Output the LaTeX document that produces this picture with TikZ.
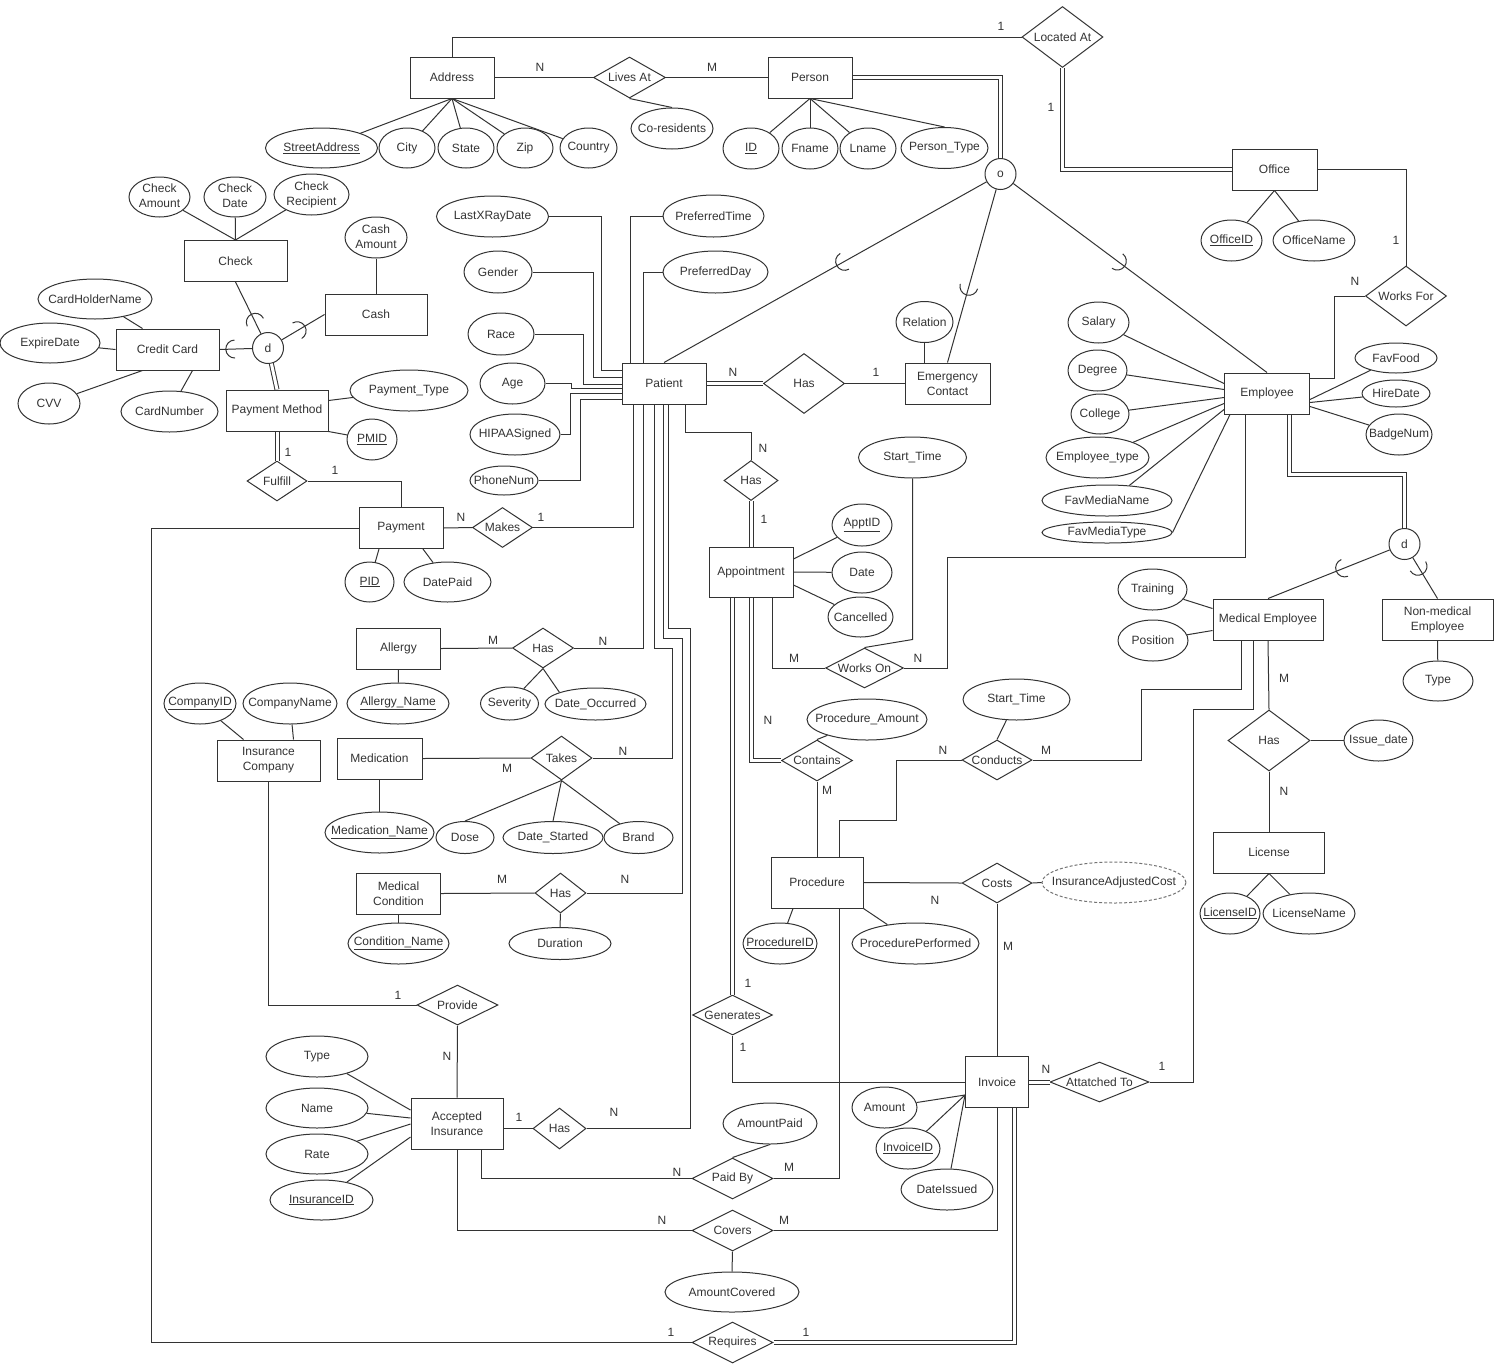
\documentclass[tikz,border=0pt]{standalone}
\usepackage{fontspec}
\setmainfont{Liberation Sans}
\usetikzlibrary{shapes.geometric,decorations.markings}
\newsavebox\lblbox
\newcommand{\attrlines}[2]{\begin{tabular}{@{}c@{}}#1\\#2\end{tabular}}
\tikzset{
  hidetext/.style={execute at begin node={\setbox\lblbox=\hbox\bgroup},
    execute at end node={\egroup\hbox to 0pt{\hss\vbox to 0pt{\vss\box\lblbox\vss}\hss}}},
  ent/.style={draw, rectangle, minimum width=84pt, minimum height=41pt, inner sep=0pt, align=center},
  attr/.style 2 args={draw, ellipse, minimum width=#1pt, minimum height=#2pt, inner sep=0pt, hidetext},
  rel/.style 2 args={draw, diamond, minimum width=#1pt, minimum height=#2pt, inner sep=0pt, hidetext},
  disj/.style={draw, circle, minimum size=31pt, inner sep=0pt},
  card/.style={inner sep=0pt},
  tot/.style={double, double distance=3pt},
  subset/.style={postaction={decorate, decoration={markings,
    mark=at position #1 with {\draw[line width=1pt] (0pt,-9pt) arc[start angle=-90, delta angle=180, radius=9pt];}}}},
}
\begin{document}
\begin{tikzpicture}[x=1pt, y=-1pt, line width=1pt, color=black!80, font=\fontsize{12}{15}\selectfont]
\useasboundingbox (0,0) rectangle (1509,1371);

% Entities
\node[ent] (addr) at (452,77.5) {Address};
\node[ent] (person) at (810,77.5) {Person};
\node[ent, minimum width=85pt] (office) at (1274.5,169.5) {Office};
\node[ent, minimum width=103pt] (check) at (235.5,261) {Check};
\node[ent, minimum width=102pt] (cash) at (376,314.5) {Cash};
\node[ent, minimum width=103pt] (cc) at (167.5,349.5) {Credit Card};
\node[ent, minimum width=102pt] (pm) at (277,410.5) {Payment Method};
\node[ent] (pat) at (664,383.5) {Patient};
\node[ent, minimum width=85pt] (ec) at (947.5,383.5) {Emergency\\Contact};
\node[ent, minimum width=85pt] (emp) at (1267,393.5) {Employee};
\node[ent] (pay) at (401,528) {Payment};
\node[ent, minimum height=50pt] (appt) at (751,572) {Appointment};
\node[ent, minimum width=110pt] (med) at (1268,619.5) {Medical Employee};
\node[ent, minimum width=111pt] (nmed) at (1437.5,619.5) {Non-medical\\Employee};
\node[ent] (allergy) at (398.5,648.5) {Allergy};
\node[ent, minimum width=103pt] (ic) at (268.5,760.5) {Insurance\\Company};
\node[ent, minimum width=85pt] (medic) at (379.5,758.5) {Medication};
\node[ent, minimum width=111pt] (lic) at (1269,852.5) {License};
\node[ent, minimum width=92pt, minimum height=51pt] (proc) at (817,882.5) {Procedure};
\node[ent] (mcond) at (398.5,893.5) {Medical\\Condition};
\node[ent, minimum width=63pt, minimum height=51pt] (inv) at (997,1082) {Invoice};
\node[ent, minimum width=92pt, minimum height=51pt] (ai) at (457,1123.5) {Accepted\\Insurance};

% Relationships
\node[rel={81}{61}] (locat) at (1062.5,37) {Located At};
\node[rel={72}{41}] (lives) at (629.5,77.5) {Lives At};
\node[rel={81}{60}] (wfor) at (1406,296) {Works For};
\node[rel={60}{40}] (fulf) at (277,481) {Fulfill};
\node[rel={81}{60}] (hasec) at (804,383.5) {Has};
\node[rel={54}{40}] (hasap) at (751,480.5) {Has};
\node[rel={60}{40}] (makes) at (502.5,527.5) {Makes};
\node[rel={61}{40}] (hasal) at (543,648) {Has};
\node[rel={78}{40}] (wkon) at (864.5,668) {Works On};
\node[rel={61}{44}] (takes) at (561.5,758) {Takes};
\node[rel={71}{41}] (cont) at (817,760.5) {Contains};
\node[rel={70}{40}] (cond) at (997,760) {Conducts};
\node[rel={82}{61}] (haslic) at (1269,740.5) {Has};
\node[rel={51}{40}] (hasmc) at (560.5,893) {Has};
\node[rel={70}{40}] (costs) at (997,883) {Costs};
\node[rel={81}{40}] (prov) at (457.5,1005) {Provide};
\node[rel={80}{40}] (gen) at (732.5,1015) {Generates};
\node[rel={99}{40}] (att) at (1099.5,1082) {Attatched To};
\node[rel={53}{41}] (hasai) at (559.5,1128.5) {Has};
\node[rel={81}{41}] (paid) at (732.5,1178.5) {Paid By};
\node[rel={81}{41}] (cov) at (732.5,1230.5) {Covers};
\node[rel={81}{41}] (req) at (732.5,1342.5) {Requires};

% Specialisation circles
\node[disj] (so) at (1000.5,174) {o};
\node[disj] (pd) at (268,348) {d};
\node[disj] (ed) at (1404.5,544) {d};

% Attributes
\node[attr={112}{40}] (sa) at (321.5,148) {\underline{StreetAddress}};
\node[attr={56}{40}] (city) at (407,148) {City};
\node[attr={56}{40}] (state) at (466,148) {State};
\node[attr={56}{40}] (zip) at (525,148) {Zip};
\node[attr={57}{40}] (country) at (588.5,148) {Country};
\node[attr={82}{41}] (cores) at (672,128.5) {Co-residents};
\node[attr={56}{41}] (idp) at (751,148.5) {\underline{ID}};
\node[attr={56}{41}] (fname) at (810,148.5) {Fname};
\node[attr={56}{41}] (lname) at (868,148.5) {Lname};
\node[attr={87}{41}] (ptypep) at (944.5,148) {Person\_Type};
\node[attr={61}{41}] (oid) at (1231.5,240.5) {\underline{OfficeID}};
\node[attr={82}{41}] (oname) at (1314,240.5) {OfficeName};
\node[attr={61}{40}] (chamt) at (159.5,197) {\attrlines{Check}{Amount}};
\node[attr={62}{40}] (chdate) at (235,197) {\attrlines{Check}{Date}};
\node[attr={75}{41}] (chrec) at (311.5,194.5) {\attrlines{Check}{Recipient}};
\node[attr={62}{41}] (cashamt) at (376,237.5) {\attrlines{Cash}{Amount}};
\node[attr={114}{40}] (chn) at (95,299) {CardHolderName};
\node[attr={100}{40}] (expd) at (50,343) {ExpireDate};
\node[attr={62}{41}] (cvv) at (49,403.5) {CVV};
\node[attr={97}{41}] (cnum) at (169.5,411.5) {CardNumber};
\node[attr={118}{41}] (ptype) at (409,390.5) {Payment\_Type};
\node[attr={50}{41}] (pmid) at (372,439.5) {\underline{PMID}};
\node[attr={49}{40}] (payid) at (369.5,582) {\underline{PID}};
\node[attr={87}{40}] (dpaid) at (447.5,582) {DatePaid};
\node[attr={112}{41}] (lxr) at (492.5,216.5) {LastXRayDate};
\node[attr={68}{42}] (gend) at (498,272) {Gender};
\node[attr={66}{42}] (race) at (501,334) {Race};
\node[attr={65}{41}] (age) at (512.5,383.5) {Age};
\node[attr={90}{41}] (hip) at (515,434.5) {HIPAASigned};
\node[attr={68}{29}] (phone) at (504,480.5) {PhoneNum};
\node[attr={101}{42}] (ptime) at (713.5,216) {PreferredTime};
\node[attr={105}{42}] (pday) at (715.5,272) {PreferredDay};
\node[attr={57}{41}] (relation) at (924.5,322) {Relation};
\node[attr={108}{41}] (stime) at (912.5,457.5) {Start\_Time};
\node[attr={60}{42}] (apptid) at (862,525) {\underline{ApptID}};
\node[attr={60}{41}] (date) at (862,572.5) {Date};
\node[attr={65}{40}] (cancel) at (860.5,617) {Cancelled};
\node[attr={61}{41}] (salary) at (1098.5,322.5) {Salary};
\node[attr={59}{41}] (degree) at (1097.5,370.5) {Degree};
\node[attr={58}{40}] (college) at (1100,414) {College};
\node[attr={103}{41}] (emptype) at (1097.5,457.5) {Employee\_type};
\node[attr={130}{31}] (fmname) at (1107,500.5) {FavMediaName};
\node[attr={130}{21}] (fmtype) at (1107,532.5) {FavMediaType};
\node[attr={82}{30}] (favfood) at (1396,358) {FavFood};
\node[attr={68}{27}] (hire) at (1396,393.5) {HireDate};
\node[attr={66}{41}] (badge) at (1399,434.5) {BadgeNum};
\node[attr={69}{41}] (train) at (1152.5,589.5) {Training};
\node[attr={70}{41}] (position) at (1153,640.5) {Position};
\node[attr={70}{40}] (ntype) at (1438,681) {Type};
\node[attr={69}{41}] (issue) at (1378.5,740.5) {Issue\_date};
\node[attr={60}{41}] (licid) at (1230,913.5) {\underline{LicenseID}};
\node[attr={92}{41}] (licname) at (1309,913.5) {LicenseName};
\node[attr={102}{41}] (alname) at (398,703.5) {\underline{Allergy\_Name}};
\node[attr={58}{33}] (sev) at (509.5,703.5) {Severity};
\node[attr={101}{32}] (docc) at (595.5,704) {Date\_Occurred};
\node[attr={72}{41}] (cid) at (200,703.5) {\underline{CompanyID}};
\node[attr={94}{41}] (cname) at (290,703.5) {CompanyName};
\node[attr={109}{41}] (mname) at (379.5,832.5) {\underline{Medication\_Name}};
\node[attr={58}{32}] (dose) at (465,837.5) {Dose};
\node[attr={100}{32}] (dstart) at (553,837.5) {Date\_Started};
\node[attr={69}{32}] (brand) at (638.5,837.5) {Brand};
\node[attr={101}{41}] (cndname) at (398.5,943.5) {\underline{Condition\_Name}};
\node[attr={102}{32}] (dur) at (560,943.5) {Duration};
\node[attr={120}{41}] (pamt) at (867,719.5) {Procedure\_Amount};
\node[attr={107}{41}] (stime2) at (1016.5,699.5) {Start\_Time};
\node[attr={74}{41}] (procid) at (780,943.5) {\underline{ProcedureID}};
\node[attr={127}{41}] (pperf) at (915.5,943.5) {ProcedurePerformed};
\node[attr={144}{41}, dash pattern=on 3pt off 2pt, draw=black!55] (iac) at (1114,882.5) {InsuranceAdjustedCost};
\node[attr={65}{41}] (amount) at (884.5,1107.5) {Amount};
\node[attr={64}{41}] (invid) at (908,1148.5) {\underline{InvoiceID}};
\node[attr={92}{41}] (dissued) at (947,1189.5) {DateIssued};
\node[attr={94}{41}] (amtpaid) at (770,1123.5) {AmountPaid};
\node[attr={134}{40}] (amtcov) at (732,1292) {AmountCovered};
\node[attr={102}{41}] (itype) at (317,1056.5) {Type};
\node[attr={102}{40}] (iname) at (317,1108) {Name};
\node[attr={102}{40}] (irate) at (317,1154) {Rate};
\node[attr={103}{40}] (insid) at (321.5,1200) {\underline{InsuranceID}};

% Address and person
\draw (addr.north) |- (locat.west);
\draw (addr.east) -- (lives.west);
\draw (lives.east) -- (person.west);
\draw (lives.south) -- (cores.north);
\foreach \a in {sa,city,state,zip,country} \draw (addr.south) -- (\a);
\foreach \a in {idp,fname,lname} \draw (person.south) -- (\a);
\draw (person.south) -- (ptypep.north);

% Office
\draw[tot] (locat.south) |- (office.west);
\draw (office.east) -| (wfor.north);
\draw (wfor.west) -- ++(-31,0) |- ([yshift=15pt]emp.east);
\foreach \a in {oid,oname} \draw (office.south) -- (\a);

% Person specialisation
\draw[tot] (person.east) -| (so.north);
\draw[subset=0.44] (so) -- (pat.north);
\draw[subset=0.56] (so) -- (ec.north);
\draw[subset=0.41] (so) -- (emp.north);

% Payment method specialisation
\draw[tot] (pd) -- (pm.north);
\draw[subset=0.22] (pd) -- (check.south);
\draw[subset=0.36] (pd) -- (cash.west);
\draw[subset=0.53] (pd) -- (cc.east);
\foreach \a in {chamt,chdate,chrec} \draw (check.north) -- (\a);
\draw (cashamt) -- (cash.north);
\draw (chn) -- ([xshift=-25pt]cc.north);
\draw (expd) -- (cc.west);
\draw (cvv) -- ([xshift=-25pt]cc.south);
\draw (cnum) -- ([xshift=25pt]cc.south);
\draw ([yshift=10pt]pm.east) -- (ptype);
\draw (pm.south east) -- (pmid);

% Payment
\draw[tot] (fulf.north) -- (pm.south);
\draw (pay.north) |- (fulf.east);
\draw (pay.east) -- (makes.west);
\draw ([xshift=-22pt]pay.south) -- (payid);
\draw ([xshift=22pt]pay.south) -- (dpaid);

% Patient attributes
\draw (lxr.east) -- ++(52,0) |- ([yshift=13.5pt]pat.west);
\draw (gend.east) -- ++(61,0) |- ([yshift=6.5pt]pat.west);
\draw (race.east) -- ++(49,0) |- ([yshift=-0.5pt]pat.west);
\draw (age.east) -- ++(26,0) |- ([yshift=-4.5pt]pat.west);
\draw (hip.east) -- ++(10,0) |- ([yshift=-9.5pt]pat.west);
\draw (phone.east) -- ++(42,0) |- ([yshift=-15.5pt]pat.west);
\draw (ptime.west) -| ([xshift=-34pt]pat.north);
\draw (pday.west) -| ([xshift=-21pt]pat.north);

% Patient relationships
\draw[tot] (pat.east) -- (hasec.west);
\draw (hasec.east) -- (ec.west);
\draw (relation) -- (relation |- ec.north);
\draw ([xshift=21pt]pat.south) -- ++(0,28) -| (hasap.north);
\draw[tot] (hasap.south) -- (appt.north);
\draw ([xshift=-31pt]pat.south) |- (makes.east);
\draw ([xshift=-21pt]pat.south) |- (hasal.east);
\draw ([xshift=-10pt]pat.south) -- ++(0,244) -- ++(18,0) |- (takes.east);
\draw ([xshift=-1pt]pat.south) -- ++(0,234) -- ++(19,0) |- (hasmc.east);
\draw ([xshift=4pt]pat.south) -- ++(0,224) -- ++(22,0) |- (hasai.east);

% Allergy, medication, condition
\draw (allergy.east) -- (hasal.west);
\draw (allergy.south) -- (alname);
\draw (hasal.south) -- (sev);
\draw (hasal.south) -- (docc.north west);
\draw (medic.east) -- (takes.west);
\draw (medic.south) -- (mname);
\draw (takes.south) -- (dose.north);
\draw (takes.south) -- (dstart.north);
\draw (takes.south) -- (brand);
\draw (mcond.east) -- (hasmc.west);
\draw (mcond.south) -- (cndname);
\draw (hasmc.south) -- (dur.north);

% Appointment
\draw ([yshift=13pt]appt.east) -- (apptid);
\draw (appt.east) -- (date);
\draw ([yshift=-13pt]appt.east) -- (cancel);
\draw ([xshift=21pt]appt.south) |- (wkon.west);
\draw (wkon.east) -- ++(43,0) -- ++(0,-111) -| ([xshift=-22pt]emp.south);
\draw (stime.south) -- ++(0,161) -- (wkon.north);
\draw[tot] (appt.south -| gen.north) -- (gen.north);
\draw[tot] (appt.south) |- (cont.west);
\draw (pamt) -- (cont.north);
\draw (cont.south) -- (proc.north);

% Procedure
\draw ([xshift=22pt]proc.north) -- ++(0,-36) -- ++(57,0) |- (cond.west);
\draw (cond.east) -- ++(109,0) -- ++(0,-71) -| ([xshift=-27pt]med.south);
\draw (stime2) -- (cond.north);
\draw (proc.east) -- (costs.west);
\draw (costs.east) -- (iac.west);
\draw (costs.south) -- (inv.north);
\draw ([xshift=22pt]proc.south) |- (paid.east);
\draw ([xshift=-24pt]proc.south) -- (procid);
\draw (proc.south east) -- (pperf);

% Employee
\draw (salary) -- ([yshift=10pt]emp.west);
\draw (degree) -- ([yshift=4pt]emp.west);
\draw (college) -- ([yshift=-4pt]emp.west);
\draw (emptype) -- ([yshift=-10pt]emp.west);
\draw (fmname.34) -- ([yshift=-16pt]emp.west);
\draw (fmtype.east) -- ([xshift=6pt]emp.south west);
\draw ([yshift=-6pt]emp.east) -- (favfood);
\draw ([yshift=-9pt]emp.east) -- (hire);
\draw ([yshift=-13pt]emp.east) -- (badge);
\draw[tot] ([xshift=22pt]emp.south) -- ++(0,60) -| (ed.north);
\draw[subset=0.37] (ed) -- (med.north);
\draw[subset=0.21] (ed) -- (nmed.north);
\draw (train) -- ([yshift=11pt]med.west);
\draw (position) -- ([yshift=-11pt]med.west);
\draw (nmed.south) -- (ntype);
\draw (med.south) -- (haslic.north);
\draw (haslic.south) -- (lic.north);
\draw (haslic.east) -- (issue.west);
\foreach \a in {licid,licname} \draw (lic.south) -- (\a);

% Invoice
\draw (gen.south) |- (inv.west);
\draw[tot] (inv.east) -- (att.west);
\draw (att.east) -- ++(44,0) -- ++(0,-373) -| ([xshift=-15pt]med.south);
\foreach \a in {amount,invid,dissued} \draw ([yshift=-13pt]inv.west) -- (\a);
\draw[tot] ([xshift=17pt]inv.south) |- (req.east);
\draw (cov.east) -| (inv.south);
\draw (cov.west) -| (ai.south);
\draw (cov.south) -- (amtcov.north);
\draw (paid.west) -| ([xshift=24pt]ai.south);
\draw (amtpaid.south) -- (paid.north);
\draw (req.west) -- ++(-540,0) |- (pay.west);

% Insurance
\draw (ai.east |- hasai.west) -- (hasai.west);
\draw (prov.south) -- (ai.north);
\draw (ic.south) |- (prov.west);
\draw (cid) -- ([xshift=-25pt]ic.north);
\draw (cname) -- ([xshift=25pt]ic.north);
\draw (itype) -- ([yshift=13.5pt]ai.west);
\draw (iname) -- ([yshift=5.5pt]ai.west);
\draw (irate) -- ([yshift=-0.5pt]ai.west);
\draw (insid) -- ([yshift=-13.5pt]ai.west);

% Cardinalities
\foreach \x/\y/\lab [count=\i] in {
  1001/26/1, 1051/107/1, 540/67/N, 712/67/M, 1396/240/1, 1355/281/N,
  733/372/N, 876/372/1, 763/448/N, 764/519/1, 288/452/1, 335/470/1,
  461/517/N, 541/517/1, 493/640/M, 603/641/N, 794/658/M, 918/658/N,
  507/768/M, 623/751/N, 768/720/N, 827/790/M, 943/750/N, 1046/750/M,
  1284/678/M, 1284/791/N, 502/879/M, 625/879/N, 935/900/N, 1008/946/M,
  398/995/1, 447/1056/N, 748/983/1, 743/1047/1, 1046/1069/N, 1162/1066/1,
  519/1117/1, 614/1112/N, 677/1172/N, 789/1167/M, 662/1220/N, 784/1220/M,
  671/1332/1, 806/1332/1}
  \node[card] (c\i) at (\x,\y) {\lab};

\end{tikzpicture}
\end{document}
